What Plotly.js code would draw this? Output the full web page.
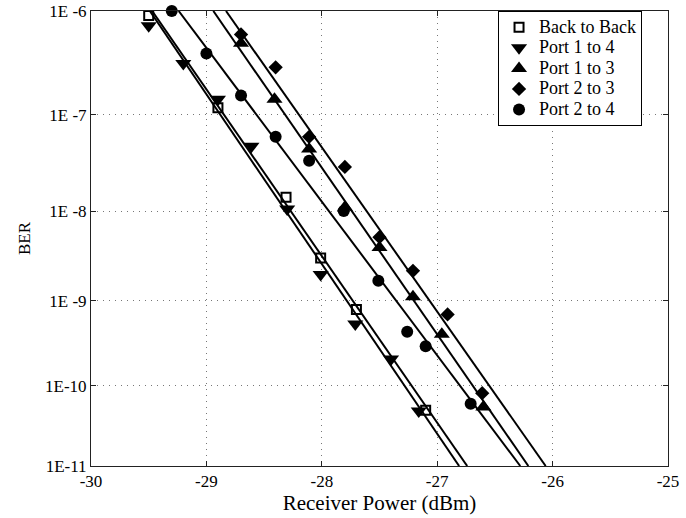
<!DOCTYPE html>
<html>
<head>
<meta charset="utf-8">
<script src="https://cdn.plot.ly/plotly-3.0.1.min.js"></script>
<style>
  html, body { margin: 0; padding: 0; background: #fff; }
  #chart { width: 686px; height: 518px; }
</style>
</head>
<body>
<div id="chart"></div>
<script>
// Measured BER versus received optical power (dBm)
const xBackToBack = [-29.50, -28.90, -28.31, -28.01, -27.70, -27.10];
const berBackToBack = [9.1e-7, 1.18e-7, 1.41e-8, 3.06e-9, 8.0e-10, 5.0e-11];

const xPort14 = [-29.50, -29.20, -28.90, -28.61, -28.30, -28.01, -27.71, -27.40, -27.16];
const berPort14 = [7.3e-7, 3.2e-7, 1.43e-7, 4.8e-8, 1.05e-8, 2.0e-9, 5.4e-10, 2.1e-10, 4.9e-11];

const xPort13 = [-29.00, -28.70, -28.41, -28.11, -27.80, -27.50, -27.21, -26.96, -26.60];
const berPort13 = [1.03e-6, 5.0e-7, 1.43e-7, 4.5e-8, 1.1e-8, 4.0e-9, 1.12e-9, 4.1e-10, 5.5e-11];

const xPort23 = [-28.70, -28.40, -28.11, -27.80, -27.50, -27.21, -26.91, -26.61];
const berPort23 = [6.05e-7, 2.94e-7, 6.0e-8, 2.94e-8, 5.2e-9, 2.2e-9, 7.0e-10, 8.1e-11];

const xPort24 = [-29.30, -29.00, -28.70, -28.40, -28.11, -27.81, -27.51, -27.26, -27.10, -26.71];
const berPort24 = [1.0e-6, 4.0e-7, 1.56e-7, 6.0e-8, 3.4e-8, 1.0e-8, 1.7e-9, 4.4e-10, 2.96e-10, 6.0e-11];

// Linear fits: received power where each fit reaches BER 1E-6 and BER 1E-11
const fitBerEnds = [1e-6, 1e-11];
const fitBackToBack = [-29.47, -26.74];
const fitPort14 = [-29.49, -26.81];
const fitPort13 = [-28.94, -26.21];
const fitPort23 = [-28.83, -26.06];
const fitPort24 = [-29.24, -26.28];

// Y axis tick values and labels
const berTicks = [1e-6, 1e-7, 1e-8, 1e-9, 1e-10, 1e-11];
const berTickText = ['1E -6', '1E -7', '1E -8', '1E -9', '1E-10', '1E-11'];

const seriesNames = ['Back to Back', 'Port 1 to 4', 'Port 1 to 3', 'Port 2 to 3', 'Port 2 to 4'];

// Complementary error function (Chebyshev fit, rel. error < 1.2e-7)
function erfc(x) {
  const z = Math.abs(x);
  const t = 1 / (1 + 0.5 * z);
  const r = t * Math.exp(-z * z - 1.26551223 + t * (1.00002368 + t * (0.37409196 +
    t * (0.09678418 + t * (-0.18628806 + t * (0.27886807 + t * (-1.13520398 +
    t * (1.48851587 + t * (-0.82215223 + t * 0.17087277)))))))));
  return x >= 0 ? r : 2 - r;
}

// Gaussian Q-factor scale: BER = 0.5 * erfc(Q / sqrt(2))
function qOf(ber) {
  let lo = 0, hi = 20;
  for (let i = 0; i < 80; i++) {
    const mid = (lo + hi) / 2;
    if (0.5 * erfc(mid / Math.SQRT2) > ber) lo = mid; else hi = mid;
  }
  return (lo + hi) / 2;
}
const toQ = arr => arr.map(qOf);

const font = 'Liberation Serif, Times New Roman, serif';

// legend rows are kept compact; the label itself is set in the larger size
const legendLabel = s => '<span style="font-size:18px">' + s + '</span>';

function pointTrace(name, xs, bers, symbol, size, lineW) {
  return {
    type: 'scatter', mode: 'markers', name: legendLabel(name),
    x: xs, y: toQ(bers),
    cliponaxis: false,
    marker: { symbol: symbol, size: size, color: '#000', line: { color: '#000', width: lineW } },
    hoverinfo: 'x'
  };
}
function fitTrace(xs) {
  return {
    type: 'scatter', mode: 'lines', x: xs, y: toQ(fitBerEnds),
    line: { color: '#000', width: 2 }, showlegend: false, hoverinfo: 'skip'
  };
}

const data = [
  fitTrace(fitBackToBack), fitTrace(fitPort14), fitTrace(fitPort13),
  fitTrace(fitPort23), fitTrace(fitPort24),
  pointTrace(seriesNames[0], xBackToBack, berBackToBack, 'square-open', 9, 2),
  pointTrace(seriesNames[1], xPort14, berPort14, 'triangle-down', 14, 0),
  pointTrace(seriesNames[2], xPort13, berPort13, 'triangle-up', 14, 0),
  pointTrace(seriesNames[3], xPort23, berPort23, 'diamond', 11, 0),
  pointTrace(seriesNames[4], xPort24, berPort24, 'circle', 12, 0)
];

const axisCommon = {
  showline: true, linecolor: '#222', linewidth: 1, mirror: 'ticks',
  ticks: 'inside', ticklen: 5, tickcolor: '#222',
  showgrid: true, gridcolor: '#777', gridwidth: 1, griddash: '1px,5px',
  zeroline: false,
  tickfont: { family: font, size: 17, color: '#000' }
};

const layout = {
  width: 686, height: 518,
  margin: { l: 91, r: 18, t: 11, b: 52 },
  paper_bgcolor: '#fff', plot_bgcolor: '#fff',
  font: { family: font, color: '#000' },
  xaxis: Object.assign({}, axisCommon, {
    range: [-30, -25], tickvals: [-30, -29, -28, -27, -26, -25],
    ticktext: ['-30', '-29', '-28', '-27', '-26', '-25'],
    title: { text: 'Receiver Power (dBm)', font: { family: font, size: 21, color: '#000' }, standoff: 3 }
  }),
  yaxis: Object.assign({}, axisCommon, {
    range: [qOf(1e-11), qOf(1e-6)],
    tickvals: toQ(berTicks), ticktext: berTickText,
    title: { text: 'BER', font: { family: font, size: 17, color: '#000' }, standoff: 10 }
  }),
  legend: {
    x: 0.955, xanchor: 'right', y: 1.0, yanchor: 'top',
    bgcolor: '#fff', bordercolor: '#000', borderwidth: 1,
    font: { family: font, size: 13.5, color: '#000' },
    tracegroupgap: 0
  },
  showlegend: true
};

Plotly.newPlot('chart', data, layout, { displayModeBar: false, staticPlot: true });
</script>
</body>
</html>
